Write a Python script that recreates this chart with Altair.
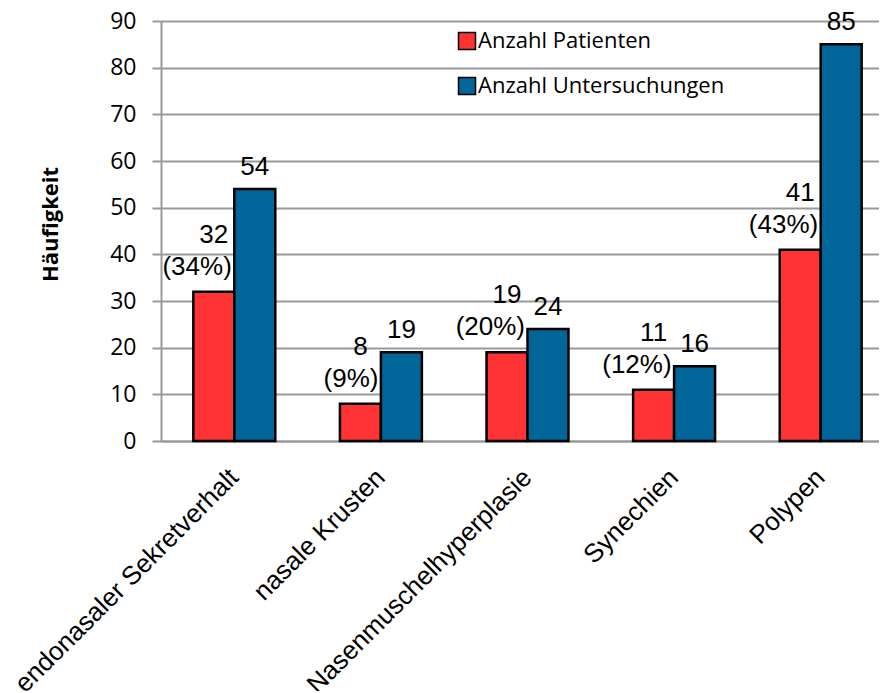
import altair as alt
import pandas as pd

categories = ["endonasaler Sekretverhalt", "nasale Krusten", "Nasenmuschelhyperplasie", "Synechien", "Polypen"]
series = ["Anzahl Patienten", "Anzahl Untersuchungen"]
patienten = [32, 8, 19, 11, 41]
untersuchungen = [54, 19, 24, 16, 85]
prozent = ["(34%)", "(9%)", "(20%)", "(12%)", "(43%)"]
y_ticks = [0, 10, 20, 30, 40, 50, 60, 70, 80, 90]
colors = ["#FF3333", "#00669A"]

rows = []
for c, p, u, pct in zip(categories, patienten, untersuchungen, prozent):
    rows.append({"cat": c, "series": series[0], "value": p, "pct": pct})
    rows.append({"cat": c, "series": series[1], "value": u, "pct": ""})
df = pd.DataFrame(rows)

GRAY = "#999999"

x_enc = alt.X(
    "cat:N", sort=categories,
    scale=alt.Scale(range=[0, 733], paddingInner=0, paddingOuter=0),
    axis=alt.Axis(title=None, labelAngle=315, labelAlign="right", labelBaseline="middle",
                  labelFont="Liberation Sans", labelFontSize=26, labelColor="black",
                  labelPadding=32, ticks=False, tickSize=0, domainColor=GRAY,
                  domainWidth=2, grid=False, labelLimit=0),
)
x_off = alt.XOffset("series:N", sort=series,
                    scale=alt.Scale(paddingInner=0, paddingOuter=0.789))
y_enc = alt.Y(
    "value:Q",
    scale=alt.Scale(domain=[0, 90], nice=False),
    axis=alt.Axis(values=y_ticks, title="Häufigkeit", titleFont="Open Sans",
                  titleFontSize=22, titleFontWeight="bold", titleColor="black",
                  titleX=-111, titleY=203, titleBaseline="middle", titleAlign="center",
                  titleAngle=270,
                  labelFont="Open Sans", labelFontSize=23, labelColor="black",
                  labelPadding=16, tickSize=9, tickColor=GRAY, tickWidth=2,
                  domainColor=GRAY, domainWidth=2, gridColor=GRAY, gridWidth=2),
)

base = alt.Chart(df)

bars = base.mark_bar(stroke="black", strokeWidth=2.5).encode(
    x=x_enc, xOffset=x_off, y=y_enc,
    color=alt.Color("series:N", sort=series,
                    scale=alt.Scale(domain=series, range=colors),
                    legend=alt.Legend(title=None, orient="none", legendX=295, legendY=9,
                                      symbolType="square", symbolSize=289,
                                      symbolStrokeColor="black", symbolStrokeWidth=1.5,
                                      labelFont="Open Sans", labelFontSize=22,
                                      labelColor="black", labelOffset=0,
                                      rowPadding=21, padding=0, labelLimit=0)),
)

lab_u = base.transform_filter(alt.datum.series == series[1]).mark_text(
    font="Liberation Sans", fontSize=26, baseline="alphabetic", dy=-14, color="black"
).encode(x=x_enc, xOffset=x_off, y=y_enc, text="value:Q")

lab_p = base.transform_filter(alt.datum.series == series[0]).mark_text(
    font="Liberation Sans", fontSize=26, baseline="alphabetic", dy=-49, color="black"
).encode(x=x_enc, xOffset=x_off, y=y_enc, text="value:Q")

lab_pct = base.transform_filter(alt.datum.series == series[0]).mark_text(
    font="Liberation Sans", fontSize=26, baseline="alphabetic", align="right",
    dx=18, dy=-17, color="black"
).encode(x=x_enc, xOffset=x_off, y=y_enc, text="pct:N")

chart = alt.layer(bars, lab_u, lab_p, lab_pct).properties(
    width=718, height=420,
    autosize=alt.AutoSizeParams(type="none"),
    padding={"left": 153, "top": 13, "right": 0, "bottom": 250},
).configure_view(stroke=None)

chart.save("out.html", embed_options={"renderer": "svg", "actions": False})
